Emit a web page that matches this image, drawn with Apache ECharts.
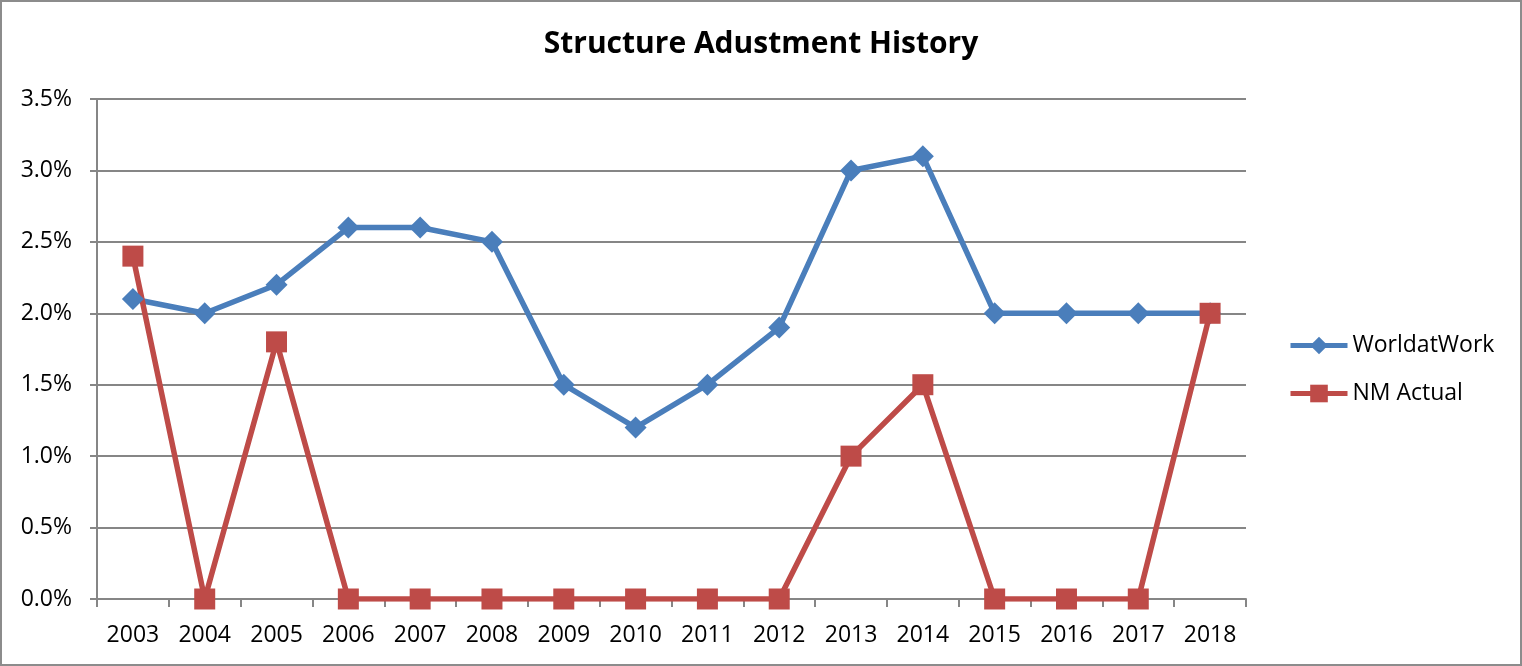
<!DOCTYPE html>
<html><head><meta charset="utf-8">
<script src="https://cdn.jsdelivr.net/npm/echarts@6/dist/echarts.min.js"></script>
<style>html,body{margin:0;padding:0;background:#fff}#c{width:1522px;height:666px;box-sizing:border-box;border:2px solid #8c8c8c}</style>
</head><body><div id="c"></div>
<script>
const years = ['2003','2004','2005','2006','2007','2008','2009','2010','2011','2012','2013','2014','2015','2016','2017','2018'];
const worldatWork = [2.1, 2.0, 2.2, 2.6, 2.6, 2.5, 1.5, 1.2, 1.5, 1.9, 3.0, 3.1, 2.0, 2.0, 2.0, 2.0];
const nmActual = [2.4, 0, 1.8, 0, 0, 0, 0, 0, 0, 0, 1.0, 1.5, 0, 0, 0, 2.0];
const FONT = '"Open Sans", "Liberation Sans", sans-serif';
const chart = echarts.init(document.getElementById('c'), null, {renderer: 'canvas'});
chart.setOption({
  animation: false,
  title: {text: 'Structure Adustment History', left: 'center', top: 22,
    textStyle: {fontFamily: FONT, fontWeight: 'bold', fontSize: 30, color: '#000'}},
  grid: {left: 95, right: 274, top: 97, bottom: 65},
  legend: {orient: 'vertical', left: 1281, top: 327, itemGap: 25, itemWidth: 57, itemHeight: 22,
    textStyle: {fontFamily: FONT, fontSize: 23, color: '#000'},
    lineStyle: {width: 5},
    data: ['WorldatWork', 'NM Actual']},
  xAxis: {type: 'category', data: years, boundaryGap: true,
    axisLine: {lineStyle: {color: '#868686', width: 2}},
    axisTick: {show: true, length: 8, lineStyle: {color: '#868686', width: 2}},
    axisLabel: {fontFamily: FONT, fontSize: 23, color: '#000', margin: 25}},
  yAxis: {type: 'value', min: 0, max: 3.5, interval: 0.5,
    axisLine: {show: true, lineStyle: {color: '#868686', width: 2}},
    axisTick: {show: true, length: 7, lineStyle: {color: '#868686', width: 2}},
    splitLine: {lineStyle: {color: '#868686', width: 2}},
    axisLabel: {fontFamily: FONT, fontSize: 23, color: '#000', margin: 25,
      formatter: v => v.toFixed(1) + '%'}},
  series: [
    {name: 'WorldatWork', type: 'line', data: worldatWork, symbol: 'diamond', symbolSize: 22,
      lineStyle: {color: '#4a7ebb', width: 5.5}, itemStyle: {color: '#4a7ebb'}},
    {name: 'NM Actual', type: 'line', data: nmActual, symbol: 'rect', symbolSize: 21,
      lineStyle: {color: '#be4b48', width: 5.5}, itemStyle: {color: '#be4b48'}}
  ]
});
</script></body></html>
